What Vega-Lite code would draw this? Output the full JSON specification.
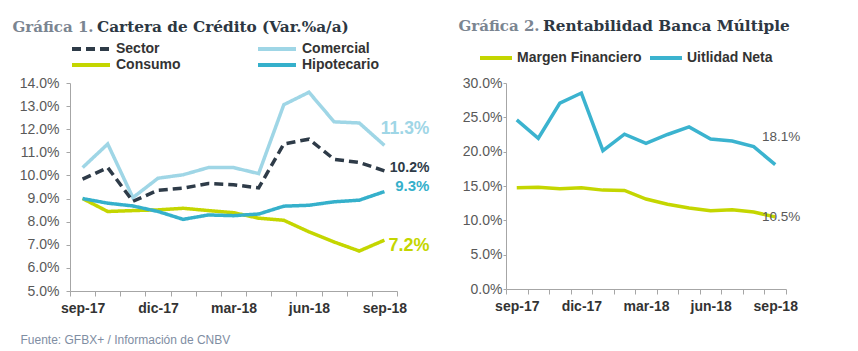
{
  "$schema": "https://vega.github.io/schema/vega-lite/v6.json",
  "background": "white",
  "padding": {"left": 12, "top": 18, "right": 0, "bottom": 0},
  "autosize": {"type": "pad"},
  "spacing": 28,
  "resolve": {"scale": {"color": "independent", "strokeDash": "independent"}, "legend": {"color": "independent", "strokeDash": "independent"}},
  "config": {
    "view": {"stroke": null},
    "font": "Liberation Sans",
    "axis": {"domainColor": "#a6a6a6", "tickColor": "#a6a6a6", "labelFont": "Liberation Sans", "grid": false},
    "legend": {"padding": 0}
  },
  "datasets": {
    "cartera": [
      {"month": "sep-17", "series": "Comercial", "value": 0.1034},
      {"month": "oct-17", "series": "Comercial", "value": 0.1136},
      {"month": "nov-17", "series": "Comercial", "value": 0.0904},
      {"month": "dic-17", "series": "Comercial", "value": 0.0988},
      {"month": "ene-18", "series": "Comercial", "value": 0.1003},
      {"month": "feb-18", "series": "Comercial", "value": 0.1034},
      {"month": "mar-18", "series": "Comercial", "value": 0.1034},
      {"month": "abr-18", "series": "Comercial", "value": 0.1008},
      {"month": "may-18", "series": "Comercial", "value": 0.1306},
      {"month": "jun-18", "series": "Comercial", "value": 0.136},
      {"month": "jul-18", "series": "Comercial", "value": 0.1232},
      {"month": "ago-18", "series": "Comercial", "value": 0.1227},
      {"month": "sep-18", "series": "Comercial", "value": 0.113},
      {"month": "sep-17", "series": "Consumo", "value": 0.09},
      {"month": "oct-17", "series": "Consumo", "value": 0.0844},
      {"month": "nov-17", "series": "Consumo", "value": 0.0848},
      {"month": "dic-17", "series": "Consumo", "value": 0.0851},
      {"month": "ene-18", "series": "Consumo", "value": 0.0858},
      {"month": "feb-18", "series": "Consumo", "value": 0.0848},
      {"month": "mar-18", "series": "Consumo", "value": 0.0839},
      {"month": "abr-18", "series": "Consumo", "value": 0.0815},
      {"month": "may-18", "series": "Consumo", "value": 0.0806},
      {"month": "jun-18", "series": "Consumo", "value": 0.0756},
      {"month": "jul-18", "series": "Consumo", "value": 0.0712},
      {"month": "ago-18", "series": "Consumo", "value": 0.0673},
      {"month": "sep-18", "series": "Consumo", "value": 0.072},
      {"month": "sep-17", "series": "Hipotecario", "value": 0.09},
      {"month": "oct-17", "series": "Hipotecario", "value": 0.088},
      {"month": "nov-17", "series": "Hipotecario", "value": 0.0868},
      {"month": "dic-17", "series": "Hipotecario", "value": 0.0844},
      {"month": "ene-18", "series": "Hipotecario", "value": 0.081},
      {"month": "feb-18", "series": "Hipotecario", "value": 0.0829},
      {"month": "mar-18", "series": "Hipotecario", "value": 0.0826},
      {"month": "abr-18", "series": "Hipotecario", "value": 0.0833},
      {"month": "may-18", "series": "Hipotecario", "value": 0.0867},
      {"month": "jun-18", "series": "Hipotecario", "value": 0.0871},
      {"month": "jul-18", "series": "Hipotecario", "value": 0.0886},
      {"month": "ago-18", "series": "Hipotecario", "value": 0.0893},
      {"month": "sep-18", "series": "Hipotecario", "value": 0.093},
      {"month": "sep-17", "series": "Sector", "value": 0.0984},
      {"month": "oct-17", "series": "Sector", "value": 0.1034},
      {"month": "nov-17", "series": "Sector", "value": 0.0888},
      {"month": "dic-17", "series": "Sector", "value": 0.0936},
      {"month": "ene-18", "series": "Sector", "value": 0.0945},
      {"month": "feb-18", "series": "Sector", "value": 0.0965},
      {"month": "mar-18", "series": "Sector", "value": 0.096},
      {"month": "abr-18", "series": "Sector", "value": 0.0946},
      {"month": "may-18", "series": "Sector", "value": 0.1136},
      {"month": "jun-18", "series": "Sector", "value": 0.1157},
      {"month": "jul-18", "series": "Sector", "value": 0.107},
      {"month": "ago-18", "series": "Sector", "value": 0.1056},
      {"month": "sep-18", "series": "Sector", "value": 0.102}
    ],
    "rentab": [
      {"month": "sep-17", "series": "Margen Financiero", "value": 0.1475},
      {"month": "oct-17", "series": "Margen Financiero", "value": 0.148},
      {"month": "nov-17", "series": "Margen Financiero", "value": 0.146},
      {"month": "dic-17", "series": "Margen Financiero", "value": 0.1475},
      {"month": "ene-18", "series": "Margen Financiero", "value": 0.144},
      {"month": "feb-18", "series": "Margen Financiero", "value": 0.1436},
      {"month": "mar-18", "series": "Margen Financiero", "value": 0.131},
      {"month": "abr-18", "series": "Margen Financiero", "value": 0.1235},
      {"month": "may-18", "series": "Margen Financiero", "value": 0.118},
      {"month": "jun-18", "series": "Margen Financiero", "value": 0.114},
      {"month": "jul-18", "series": "Margen Financiero", "value": 0.1155},
      {"month": "ago-18", "series": "Margen Financiero", "value": 0.112},
      {"month": "sep-18", "series": "Margen Financiero", "value": 0.105},
      {"month": "sep-17", "series": "Uitlidad Neta", "value": 0.2463},
      {"month": "oct-17", "series": "Uitlidad Neta", "value": 0.2195},
      {"month": "nov-17", "series": "Uitlidad Neta", "value": 0.2707},
      {"month": "dic-17", "series": "Uitlidad Neta", "value": 0.2854},
      {"month": "ene-18", "series": "Uitlidad Neta", "value": 0.2015},
      {"month": "feb-18", "series": "Uitlidad Neta", "value": 0.2254},
      {"month": "mar-18", "series": "Uitlidad Neta", "value": 0.212},
      {"month": "abr-18", "series": "Uitlidad Neta", "value": 0.225},
      {"month": "may-18", "series": "Uitlidad Neta", "value": 0.236},
      {"month": "jun-18", "series": "Uitlidad Neta", "value": 0.2185},
      {"month": "jul-18", "series": "Uitlidad Neta", "value": 0.2156},
      {"month": "ago-18", "series": "Uitlidad Neta", "value": 0.2073},
      {"month": "sep-18", "series": "Uitlidad Neta", "value": 0.181}
    ]
  },
  "hconcat": [
    {
      "width": 327,
      "height": 208,
      "data": {"name": "cartera"},
      "title": {"text": "Cartera de Crédito (Var.%a/a)", "anchor": "start", "frame": "group", "dx": 27, "dy": 20, "font": "DejaVu Serif", "fontSize": 15.3, "fontWeight": "bold", "color": "#2d3742"},
      "encoding": {
        "x": {
          "field": "month", "type": "ordinal",
          "sort": ["sep-17","oct-17","nov-17","dic-17","ene-18","feb-18","mar-18","abr-18","may-18","jun-18","jul-18","ago-18","sep-18"],
          "scale": {"type": "band", "paddingInner": 0, "paddingOuter": 0},
          "axis": {
            "title": "Fuente: GFBX+ / Información de CNBV",
            "titleX": -50, "titleY": 48, "titleAlign": "left", "titleAnchor": "start", "titleBaseline": "middle",
            "titleFontWeight": "normal", "titleFontSize": 12, "titleColor": "#7f8ea3", "titleFont": "Liberation Sans",
            "tickBand": "extent", "labelAngle": 0, "labelOverlap": false,
            "labelExpr": "indexof(['sep-17','dic-17','mar-18','jun-18','sep-18'], datum.value) >= 0 ? datum.label : ''",
            "labelFontWeight": "bold", "labelFontSize": 14, "labelColor": "#333333", "labelPadding": 5, "tickSize": 5
          }
        },
        "y": {
          "field": "value", "type": "quantitative",
          "scale": {"domain": [0.05, 0.14], "nice": false, "zero": false},
          "axis": {
            "values": [0.05,0.06,0.07,0.08,0.09,0.10,0.11,0.12,0.13,0.14],
            "format": ".1%", "labelFontSize": 14, "labelColor": "#595959", "tickSize": 4, "labelPadding": 7,
            "title": "Gráfica 1.", "titleAngle": 0, "titleX": -58, "titleY": -52, "titleAlign": "left", "titleAnchor": "start", "titleBaseline": "alphabetic",
            "titleFont": "DejaVu Serif", "titleFontSize": 15, "titleFontWeight": "bold", "titleColor": "#7b8591"
          }
        }
      },
      "layer": [
        {
          "mark": {"type": "line", "strokeWidth": 3.5, "strokeCap": "butt", "strokeJoin": "miter"},
          "encoding": {
            "color": {
              "field": "series", "type": "nominal",
              "scale": {"domain": ["Sector","Comercial","Consumo","Hipotecario"], "range": ["#2e3b48","#9fd6e6","#c4d600","#35b0cb"]},
              "legend": {
                "title": null, "orient": "none", "legendX": 13, "legendY": -42, "columns": 2, "direction": "horizontal",
                "symbolType": "M-3.1667,0H3.1667", "symbolSize": 144, "symbolStrokeWidth": 4, "columnPadding": 68, "rowPadding": 0,
                "labelFontSize": 14, "labelFontWeight": "bold", "labelColor": "#333333", "labelOffset": 17, "labelFont": "Liberation Sans"
              }
            },
            "strokeDash": {
              "field": "series", "type": "nominal",
              "scale": {"domain": ["Sector","Comercial","Consumo","Hipotecario"], "range": [[9,5],[1,0],[1,0],[1,0]]},
              "legend": {
                "title": null, "orient": "none", "legendX": 13, "legendY": -42, "columns": 2, "direction": "horizontal",
                "symbolType": "M-3.1667,0H3.1667", "symbolSize": 144, "symbolStrokeWidth": 4, "columnPadding": 68, "rowPadding": 0,
                "labelFontSize": 14, "labelFontWeight": "bold", "labelColor": "#333333", "labelOffset": 17, "labelFont": "Liberation Sans"
              }
            }
          }
        },
        {
          "transform": [{"filter": "datum.series == 'Comercial' && datum.month == 'sep-18'"}],
          "mark": {"type": "text", "align": "right", "baseline": "middle", "dx": 45, "dy": -16, "fontSize": 17.5, "fontWeight": "bold", "color": "#9fd6e6"},
          "encoding": {"text": {"field": "value", "format": ".1%"}}
        },
        {
          "transform": [{"filter": "datum.series == 'Sector' && datum.month == 'sep-18'"}],
          "mark": {"type": "text", "align": "right", "baseline": "middle", "dx": 45, "dy": -3, "fontSize": 14, "fontWeight": "bold", "color": "#2e3b48"},
          "encoding": {"text": {"field": "value", "format": ".1%"}}
        },
        {
          "transform": [{"filter": "datum.series == 'Hipotecario' && datum.month == 'sep-18'"}],
          "mark": {"type": "text", "align": "right", "baseline": "middle", "dx": 45, "dy": -6, "fontSize": 15, "fontWeight": "bold", "color": "#35b0cb"},
          "encoding": {"text": {"field": "value", "format": ".1%"}}
        },
        {
          "transform": [{"filter": "datum.series == 'Consumo' && datum.month == 'sep-18'"}],
          "mark": {"type": "text", "align": "right", "baseline": "middle", "dx": 45, "dy": 6, "fontSize": 18, "fontWeight": "bold", "color": "#c4d600"},
          "encoding": {"text": {"field": "value", "format": ".1%"}}
        }
      ]
    },
    {
      "width": 280,
      "height": 206,
      "data": {"name": "rentab"},
      "title": {"text": "Rentabilidad Banca Múltiple", "anchor": "start", "frame": "group", "dx": 37, "dy": 20, "font": "DejaVu Serif", "fontSize": 15.3, "fontWeight": "bold", "color": "#2d3742"},
      "encoding": {
        "x": {
          "field": "month", "type": "ordinal",
          "sort": ["sep-17","oct-17","nov-17","dic-17","ene-18","feb-18","mar-18","abr-18","may-18","jun-18","jul-18","ago-18","sep-18"],
          "scale": {"type": "band", "paddingInner": 0, "paddingOuter": 0},
          "axis": {
            "title": null,
            "tickBand": "extent", "labelAngle": 0, "labelOverlap": false,
            "labelExpr": "indexof(['sep-17','dic-17','mar-18','jun-18','sep-18'], datum.value) >= 0 ? datum.label : ''",
            "labelFontWeight": "bold", "labelFontSize": 14, "labelColor": "#333333", "labelPadding": 5, "tickSize": 5
          }
        },
        "y": {
          "field": "value", "type": "quantitative",
          "scale": {"domain": [0, 0.30], "nice": false},
          "axis": {
            "values": [0,0.05,0.10,0.15,0.20,0.25,0.30],
            "format": ".1%", "labelFontSize": 14, "labelColor": "#595959", "tickSize": 3, "labelPadding": 1,
            "title": "Gráfica 2.", "titleAngle": 0, "titleX": -48, "titleY": -53, "titleAlign": "left", "titleAnchor": "start", "titleBaseline": "alphabetic",
            "titleFont": "DejaVu Serif", "titleFontSize": 15, "titleFontWeight": "bold", "titleColor": "#7b8591"
          }
        }
      },
      "layer": [
        {
          "mark": {"type": "line", "strokeWidth": 3.5, "strokeCap": "butt", "strokeJoin": "miter"},
          "encoding": {
            "color": {
              "field": "series", "type": "nominal",
              "scale": {"domain": ["Margen Financiero","Uitlidad Neta"], "range": ["#c4d600","#3bb3cf"]},
              "legend": {
                "title": null, "orient": "none", "legendX": -28, "legendY": -43, "direction": "horizontal",
                "symbolType": "stroke", "symbolSize": 1024, "symbolStrokeWidth": 4, "columnPadding": 0,
                "labelFontSize": 14, "labelFontWeight": "bold", "labelColor": "#333333", "labelOffset": 3, "labelFont": "Liberation Sans"
              }
            }
          }
        },
        {
          "transform": [{"filter": "datum.series == 'Uitlidad Neta' && datum.month == 'sep-18'"}],
          "mark": {"type": "text", "align": "right", "baseline": "middle", "dx": 25, "dy": -28, "fontSize": 13.5, "color": "#595959"},
          "encoding": {"text": {"field": "value", "format": ".1%"}}
        },
        {
          "transform": [{"filter": "datum.series == 'Margen Financiero' && datum.month == 'sep-18'"}],
          "mark": {"type": "text", "align": "right", "baseline": "middle", "dx": 25, "dy": 0, "fontSize": 13.5, "color": "#595959"},
          "encoding": {"text": {"field": "value", "format": ".1%"}}
        }
      ]
    }
  ]
}
